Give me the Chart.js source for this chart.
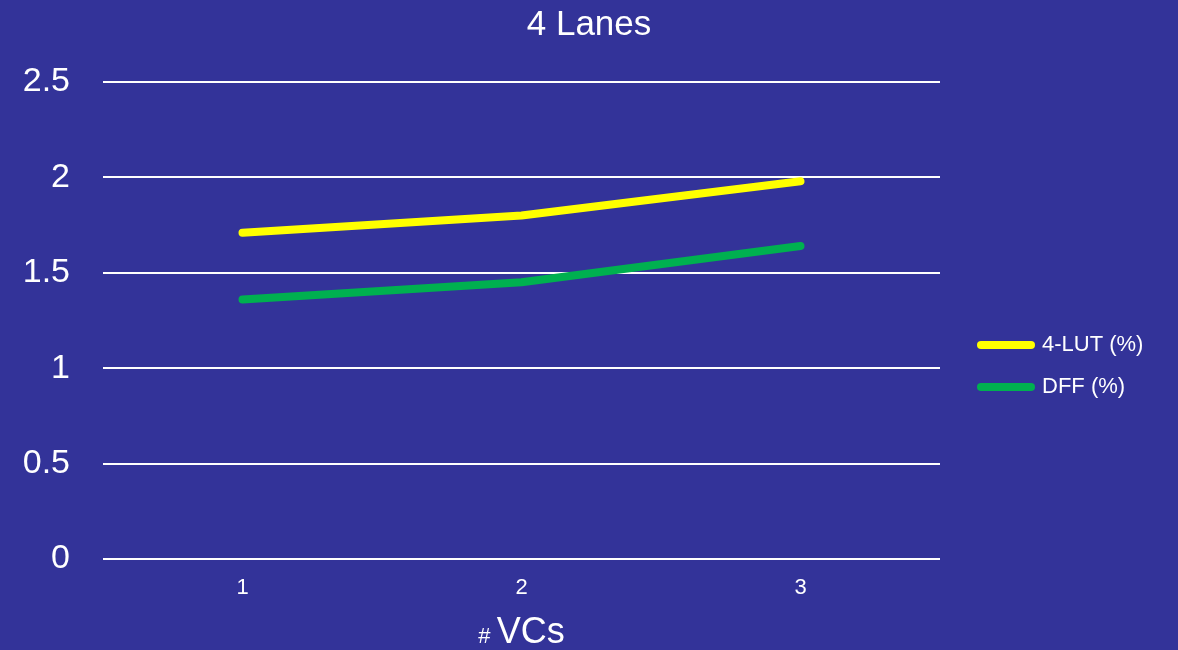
<!DOCTYPE html>
<html>
<head>
<meta charset="utf-8">
<script src="https://cdn.jsdelivr.net/npm/chart.js@4"></script>
<style>
  body { margin: 0; background: #333399; }
  #wrap { width: 1178px; height: 650px; }
</style>
</head>
<body>
<div id="wrap"><canvas id="chart"></canvas></div>
<script>
const categories = ['1', '2', '3'];
const lutValues = [1.71, 1.80, 1.98];
const dffValues = [1.36, 1.45, 1.64];
const yTicks = [0, 0.5, 1, 1.5, 2, 2.5];
const yTickLabels = ['0', '0.5', '1', '1.5', '2', '2.5'];

const FONT = '"Liberation Sans", Arial, sans-serif';

// paints the blue slide background
const bgPlugin = {
  id: 'bg',
  beforeDraw(chart) {
    const c = chart.ctx;
    c.save();
    c.fillStyle = '#333399';
    c.fillRect(0, 0, chart.width, chart.height);
    c.restore();
  }
};

// legend sits a bit further right / lower than Chart.js puts it
const legendPlugin = {
  id: 'legendBox',
  beforeLayout(chart) {
    const lg = chart.legend;
    if (lg && !lg._patched) {
      const fit = lg.fit;
      lg.fit = function () {
        fit.call(this);
        this.width = 238;
        this.maxWidth = 238;
      };
      lg._patched = true;
    }
  },
  afterLayout(chart) {
    const lg = chart.legend;
    lg.left += 21; lg.right += 21;
    lg.top += 41; lg.bottom += 41;
  }
};

// "# VCs" axis title, the # is smaller than the rest
const axisTitlePlugin = {
  id: 'xTitle',
  afterDraw(chart) {
    const c = chart.ctx;
    const area = chart.chartArea;
    const cx = (area.left + area.right) / 2;
    const base = area.bottom + 84;
    c.save();
    c.fillStyle = '#ffffff';
    c.textBaseline = 'alphabetic';
    c.font = '22px ' + FONT;
    const a = '# ';
    const wa = c.measureText(a).width;
    c.font = '36px ' + FONT;
    const b = 'VCs';
    const wb = c.measureText(b).width;
    let x = cx - (wa + wb) / 2;
    c.font = '22px ' + FONT;
    c.fillText(a, x, base);
    c.font = '36px ' + FONT;
    c.fillText(b, x + wa, base);
    c.restore();
  }
};

new Chart(document.getElementById('chart'), {
  type: 'line',
  data: {
    labels: categories,
    datasets: [
      {
        label: '4-LUT (%)',
        data: lutValues,
        borderColor: '#ffff00',
        backgroundColor: '#ffff00',
        borderWidth: 8,
        borderCapStyle: 'round',
        borderJoinStyle: 'round',
        pointRadius: 0,
        tension: 0
      },
      {
        label: 'DFF (%)',
        data: dffValues,
        borderColor: '#00b050',
        backgroundColor: '#00b050',
        borderWidth: 8,
        borderCapStyle: 'round',
        borderJoinStyle: 'round',
        pointRadius: 0,
        tension: 0
      }
    ]
  },
  options: {
    responsive: true,
    maintainAspectRatio: false,
    animation: false,
    layout: { padding: 0 },
    plugins: {
      title: {
        display: true,
        text: '4 Lanes',
        color: '#ffffff',
        font: { family: FONT, size: 35, weight: 'normal', lineHeight: 1.2 },
        padding: { top: 4, bottom: 36 }
      },
      legend: {
        position: 'right',
        labels: {
          color: '#ffffff',
          font: { family: FONT, size: 22 },
          usePointStyle: true,
          pointStyle: 'line',
          pointStyleWidth: 50,
          padding: 20,
          generateLabels(chart) {
            const items = Chart.defaults.plugins.legend.labels.generateLabels(chart);
            items.forEach(it => {
              it.lineCap = 'round';
              it.fontColor = '#ffffff';
            });
            return items;
          }
        }
      },
      tooltip: { enabled: false }
    },
    scales: {
      x: {
        offset: true,
        grid: { display: false, drawTicks: false },
        border: { display: false },
        ticks: {
          color: '#ffffff',
          font: { family: FONT, size: 22 },
          padding: 16
        },
        afterFit(scale) { scale.height = 91; }
      },
      y: {
        min: 0,
        max: 2.5,
        afterBuildTicks(scale) { scale.ticks = yTicks.map(v => ({ value: v })); },
        grid: { color: '#ffffff', lineWidth: 2, drawTicks: false },
        border: { display: false },
        ticks: {
          color: '#ffffff',
          font: { family: FONT, size: 34 },
          padding: 33,
          callback(value, i) { return yTickLabels[i]; }
        },
        afterFit(scale) { scale.width = 103; }
      }
    }
  },
  plugins: [bgPlugin, legendPlugin, axisTitlePlugin]
});
</script>
</body>
</html>
